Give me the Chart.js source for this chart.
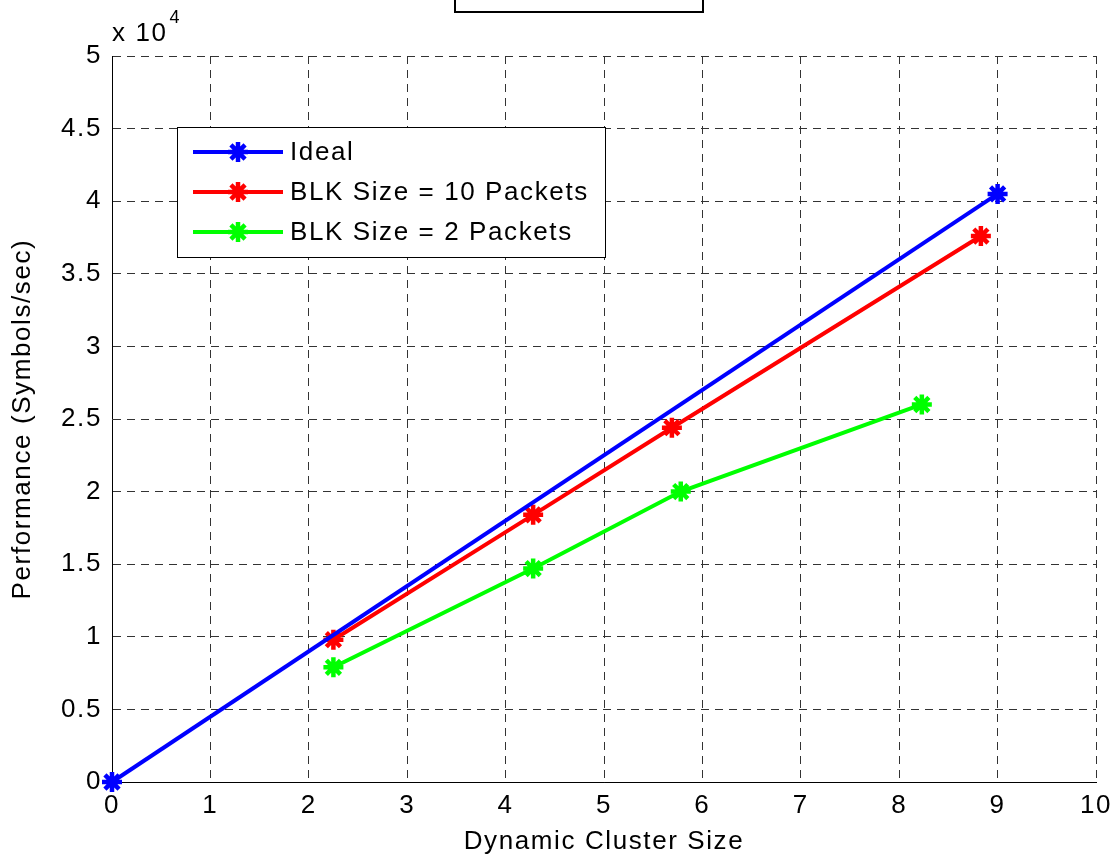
<!DOCTYPE html>
<html>
<head>
<meta charset="utf-8">
<script src="https://cdn.jsdelivr.net/npm/chart.js@4"></script>
<style>
  html, body { margin: 0; padding: 0; background: #fff; }
  #wrap { width: 1120px; height: 857px; }
</style>
</head>
<body>
<div id="wrap"><canvas id="perf-chart" width="1120" height="857"></canvas></div>
<script>
// data (performance in symbols/sec)
var idealX = [0, 9];
var idealY = [0, 40500];
var blk10X = [2.25, 4.28, 5.69, 8.83];
var blk10Y = [9800, 18400, 24400, 37600];
var blk2X = [2.25, 4.28, 5.78, 8.23];
var blk2Y = [7900, 14700, 20000, 26000];
var seriesLabels = ['Ideal', 'BLK Size = 10 Packets', 'BLK Size = 2 Packets'];
var seriesColors = ['#0000ff', '#ff0000', '#00ff00'];
var xTicks = [0, 1, 2, 3, 4, 5, 6, 7, 8, 9, 10];
var yTicks = [0, 5000, 10000, 15000, 20000, 25000, 30000, 35000, 40000, 45000, 50000];

var fontFamily = '"Liberation Sans", Arial, Helvetica, sans-serif';
Chart.defaults.font.family = fontFamily;
Chart.defaults.font.size = 26;
Chart.defaults.color = '#000';

function toPoints(xs, ys) {
    var pts = [];
    for (var i = 0; i < xs.length; i++) {
        pts.push({ x: xs[i], y: ys[i] });
    }
    return pts;
}

function makeSet(idx, xs, ys) {
    return {
        label: seriesLabels[idx],
        data: toPoints(xs, ys),
        showLine: true,
        borderColor: seriesColors[idx],
        backgroundColor: seriesColors[idx],
        borderWidth: 4,
        pointStyle: 'star',
        pointRadius: 10,
        pointBorderWidth: 4.5,
        pointHoverRadius: 10,
        clip: false
    };
}

// wider letter spacing, closer to the original rendering
var spacingPlugin = {
    id: 'spacing',
    beforeDraw: function (chart) {
        chart.ctx.letterSpacing = '1.6px';
    }
};

var extrasPlugin = {
    id: 'extras',
    afterDraw: function (chart) {
        var ctx = chart.ctx;
        var area = chart.chartArea;
        ctx.save();
        ctx.letterSpacing = '1.6px';

        // exponent label
        ctx.fillStyle = '#000';
        ctx.textAlign = 'left';
        ctx.textBaseline = 'alphabetic';
        ctx.font = '26px ' + fontFamily;
        ctx.fillText('x 10', area.left, 41);
        var w = ctx.measureText('x 10').width;
        ctx.font = '18px ' + fontFamily;
        ctx.fillText('4', area.left + w + 2, 23);

        // clipped title box at the top
        ctx.strokeStyle = '#000';
        ctx.lineWidth = 2;
        ctx.strokeRect(455, -4, 248, 16);

        // legend
        var lx = 177, ly = 127, lw = 428, lh = 130;
        ctx.fillStyle = '#fff';
        ctx.fillRect(lx, ly, lw, lh);
        ctx.lineWidth = 1;
        ctx.strokeStyle = '#000';
        ctx.strokeRect(lx + 0.5, ly + 0.5, lw, lh);
        ctx.font = '26px ' + fontFamily;
        ctx.textBaseline = 'middle';
        var rows = [152, 192, 232];
        chart.data.datasets.forEach(function (ds, i) {
            var y = rows[i];
            ctx.strokeStyle = ds.borderColor;
            ctx.lineWidth = 4;
            ctx.beginPath();
            ctx.moveTo(193, y);
            ctx.lineTo(283, y);
            ctx.stroke();
            ctx.lineWidth = 4.5;
            Chart.helpers.drawPoint(ctx, { pointStyle: 'star', radius: 10, borderWidth: 4.5 }, 238, y);
            ctx.fillStyle = '#000';
            ctx.fillText(ds.label, 290, y + 1);
        });
        ctx.restore();
    }
};

var ctx = document.getElementById('perf-chart').getContext('2d');
var perfChart = new Chart(ctx, {
    type: 'scatter',
    data: {
        datasets: [
            makeSet(0, idealX, idealY),
            makeSet(1, blk10X, blk10Y),
            makeSet(2, blk2X, blk2Y)
        ]
    },
    options: {
        responsive: false,
        animation: false,
        layout: { padding: { top: 56, right: 24, left: 0, bottom: 0 } },
        plugins: {
            legend: { display: false },
            tooltip: { enabled: false }
        },
        scales: {
            x: {
                type: 'linear',
                min: 0,
                max: 10,
                afterBuildTicks: function (scale) {
                    scale.ticks = xTicks.map(function (v) { return { value: v }; });
                },
                afterFit: function (scale) { scale.height = 75; },
                ticks: { padding: 8, color: '#000', font: { size: 26 } },
                grid: {
                    color: '#333',
                    lineWidth: 1,
                    drawTicks: false
                },
                border: { display: true, color: '#000', width: 1, dash: [8, 6] },
                title: {
                    display: true,
                    text: 'Dynamic Cluster Size',
                    color: '#000',
                    font: { size: 26 },
                    padding: { top: 0, bottom: 0 }
                }
            },
            y: {
                type: 'linear',
                min: 0,
                max: 50000,
                afterBuildTicks: function (scale) {
                    scale.ticks = yTicks.map(function (v) { return { value: v }; });
                },
                afterFit: function (scale) { scale.width = 112; },
                ticks: {
                    padding: 10,
                    color: '#000',
                    font: { size: 26 },
                    callback: function (v) { return String(v / 10000); }
                },
                grid: {
                    color: '#333',
                    lineWidth: 1,
                    drawTicks: false
                },
                border: { display: true, color: '#000', width: 1, dash: [8, 6] },
                title: {
                    display: true,
                    text: 'Performance (Symbols/sec)',
                    color: '#000',
                    font: { size: 26 },
                    padding: { top: 7, bottom: 0 }
                }
            }
        }
    },
    plugins: [spacingPlugin, extrasPlugin]
});
</script>
</body>
</html>
